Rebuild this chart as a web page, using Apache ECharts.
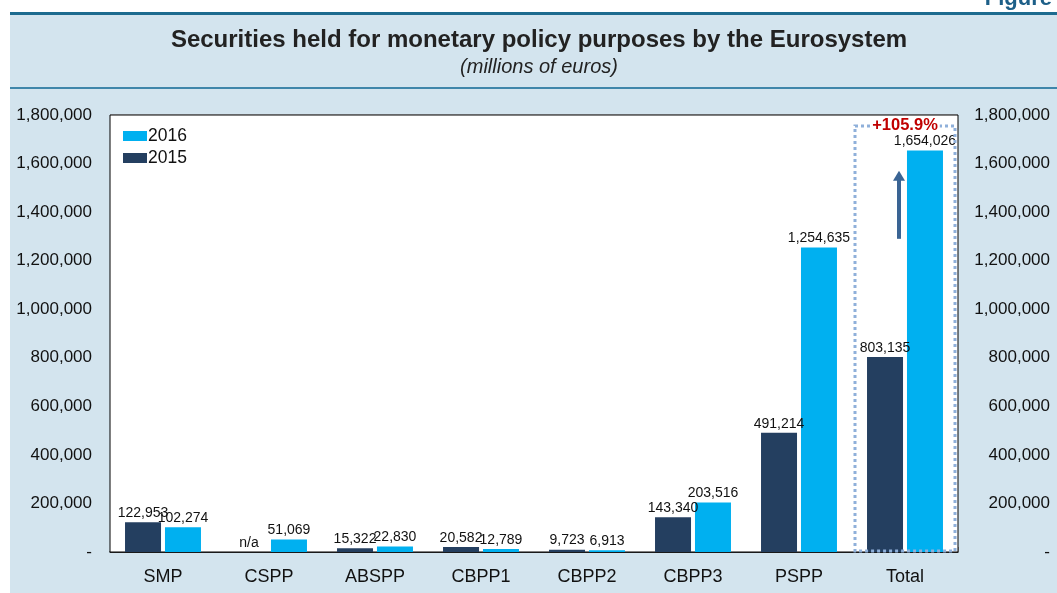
<!DOCTYPE html>
<html><head><meta charset="utf-8">
<script src="https://cdn.jsdelivr.net/npm/echarts@6/dist/echarts.min.js"></script>
<style>html,body{margin:0;padding:0;background:#fff;}#c{width:1057px;height:593px;}</style>
</head><body><div id="c"></div>
<script>
const categories = ['SMP','CSPP','ABSPP','CBPP1','CBPP2','CBPP3','PSPP','Total'];
const values2015 = [122953, null, 15322, 20582, 9723, 143340, 491214, 803135];
const values2016 = [102274, 51069, 22830, 12789, 6913, 203516, 1254635, 1654026];
const yTicks = {min: 0, max: 1800000, interval: 200000};
const changeLabel = '+105.9%';
const titleText = 'Securities held for monetary policy purposes by the Eurosystem';
const subtitleText = '(millions of euros)';

const FONT = 'Liberation Sans, Arial, Helvetica, sans-serif';
const fmt = v => v === 0 ? '-' : v.toLocaleString('en-US');

const chart = echarts.init(document.getElementById('c'));
const labelStyle = {show: true, position: 'top', distance: 2, fontSize: 14, color: '#111', fontFamily: FONT,
  formatter: p => p.data && p.data.na ? 'n/a' : fmt(p.value)};

const d2015 = values2015.map(v => v === null ? {value: 0, na: true} : v);

const yAxisCommon = {type: 'value', min: yTicks.min, max: yTicks.max, interval: yTicks.interval,
  axisLine: {show: false}, axisTick: {show: false},
  axisLabel: {fontSize: 17, color: '#111', fontFamily: FONT, formatter: fmt}};

chart.setOption({
  animation: false,
  textStyle: {fontFamily: FONT},
  grid: {left: 110, right: 99, top: 115, bottom: 41, show: true, borderColor: '#000', borderWidth: 1, backgroundColor: '#fff', z: 1},
  legend: {data: ['2016', '2015'], orient: 'vertical', left: 118, top: 122, itemWidth: 24, itemHeight: 10, itemGap: 4,
    icon: 'rect', textStyle: {fontSize: 17.5, color: '#111', fontFamily: FONT, padding: [0,0,0,-4]}},
  xAxis: {type: 'category', data: categories,
    axisLine: {lineStyle: {color: '#000', width: 1.5}},
    axisTick: {show: true, inside: true, length: 5, lineStyle: {color: '#999'}},
    axisLabel: {fontSize: 18, color: '#111', margin: 16, fontFamily: FONT}},
  yAxis: [
    Object.assign({}, yAxisCommon, {position: 'left', splitLine: {lineStyle: {color: '#c4c4c4', width: 1.5}},
      axisLabel: Object.assign({}, yAxisCommon.axisLabel, {margin: 18})}),
    Object.assign({}, yAxisCommon, {position: 'right', splitLine: {show: false},
      axisLabel: Object.assign({}, yAxisCommon.axisLabel, {align: 'right', margin: 92})})
  ],
  series: [
    {name: '2015', type: 'bar', data: d2015, barWidth: 36, barGap: '11%', itemStyle: {color: '#243f60'}, label: labelStyle, z: 3},
    {name: '2016', type: 'bar', data: values2016, barWidth: 36, itemStyle: {color: '#00b0f0'}, label: labelStyle, z: 3}
  ]
});

// decorations (panel, title, highlight box, arrow) placed through the chart's scales
const pc = chart.convertToPixel({xAxisIndex: 0, yAxisIndex: 0}, ['Total', 0]);
const ptop = chart.convertToPixel({xAxisIndex: 0, yAxisIndex: 0}, ['Total', 1755000]);
const p0 = chart.convertToPixel({xAxisIndex: 0, yAxisIndex: 0}, ['Total', 1290000]);
const p1 = chart.convertToPixel({xAxisIndex: 0, yAxisIndex: 0}, ['Total', 1570000]);
const ax = p0[0] - 6;
const bx = pc[0] - 50;
chart.setOption({
  graphic: [
    {type: 'rect', z: -10, silent: true, shape: {x: 10, y: 13, width: 1047, height: 580}, style: {fill: '#d3e4ee'}},
    {type: 'rect', z: -9, silent: true, shape: {x: 10, y: 12, width: 1047, height: 3}, style: {fill: '#1d6b8f'}},
    {type: 'rect', z: -9, silent: true, shape: {x: 10, y: 87, width: 1047, height: 2}, style: {fill: '#3f86aa'}},
    {type: 'text', silent: true, x: 1052, y: -12, style: {text: 'Figure', fill: '#1d5f88', font: 'bold 22px ' + FONT, textAlign: 'right'}},
    {type: 'text', silent: true, x: 539, y: 28, style: {text: titleText, fill: '#222', font: 'bold 24px ' + FONT, textAlign: 'center'}},
    {type: 'text', silent: true, x: 539, y: 57, style: {text: subtitleText, fill: '#222', font: 'italic 20px ' + FONT, textAlign: 'center'}},
    {type: 'rect', silent: true, z: 99, shape: {x: bx, y: ptop[1], width: 100, height: pc[1] - ptop[1] - 1},
      style: {fill: 'none', stroke: '#8fb0da', lineWidth: 3, lineDash: [3, 3]}},
    {type: 'text', silent: true, z: 101, x: bx + 50, y: ptop[1] - 9, style: {text: changeLabel, fill: '#c00000', font: 'bold 16.5px ' + FONT, textAlign: 'center', backgroundColor: '#fff', padding: [0, 2]}},
    {type: 'line', silent: true, z: 100, shape: {x1: ax, y1: p0[1], x2: ax, y2: p1[1] + 8}, style: {stroke: '#3a6494', lineWidth: 4}},
    {type: 'polygon', silent: true, z: 100, shape: {points: [[ax - 6, p1[1] + 10], [ax + 6, p1[1] + 10], [ax, p1[1]]]}, style: {fill: '#3a6494'}}
  ]
});
</script></body></html>
